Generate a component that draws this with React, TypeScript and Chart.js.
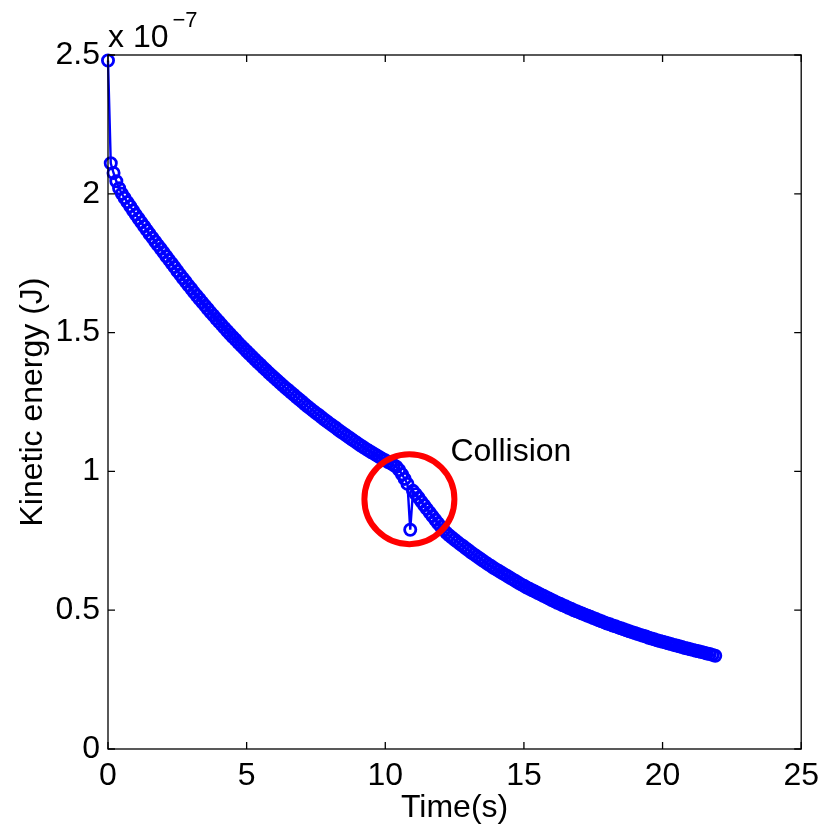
import React, { useEffect, useRef } from "react";
import { Chart, registerables } from "chart.js";

Chart.register(...registerables);

// Time (s), one sample every 0.1 s
const timeS = [
  0, 0.1, 0.2, 0.3, 0.4, 0.5, 0.6, 0.7, 0.8, 0.9,
  1.0, 1.1, 1.2, 1.3, 1.4, 1.5, 1.6, 1.7, 1.8, 1.9,
  2.0, 2.1, 2.2, 2.3, 2.4, 2.5, 2.6, 2.7, 2.8, 2.9,
  3.0, 3.1, 3.2, 3.3, 3.4, 3.5, 3.6, 3.7, 3.8, 3.9,
  4.0, 4.1, 4.2, 4.3, 4.4, 4.5, 4.6, 4.7, 4.8, 4.9,
  5.0, 5.1, 5.2, 5.3, 5.4, 5.5, 5.6, 5.7, 5.8, 5.9,
  6.0, 6.1, 6.2, 6.3, 6.4, 6.5, 6.6, 6.7, 6.8, 6.9,
  7.0, 7.1, 7.2, 7.3, 7.4, 7.5, 7.6, 7.7, 7.8, 7.9,
  8.0, 8.1, 8.2, 8.3, 8.4, 8.5, 8.6, 8.7, 8.8, 8.9,
  9.0, 9.1, 9.2, 9.3, 9.4, 9.5, 9.6, 9.7, 9.8, 9.9,
  10.0, 10.1, 10.2, 10.3, 10.4, 10.5, 10.6, 10.7, 10.8, 10.9,
  11.0, 11.1, 11.2, 11.3, 11.4, 11.5, 11.6, 11.7, 11.8, 11.9,
  12.0, 12.1, 12.2, 12.3, 12.4, 12.5, 12.6, 12.7, 12.8, 12.9,
  13.0, 13.1, 13.2, 13.3, 13.4, 13.5, 13.6, 13.7, 13.8, 13.9,
  14.0, 14.1, 14.2, 14.3, 14.4, 14.5, 14.6, 14.7, 14.8, 14.9,
  15.0, 15.1, 15.2, 15.3, 15.4, 15.5, 15.6, 15.7, 15.8, 15.9,
  16.0, 16.1, 16.2, 16.3, 16.4, 16.5, 16.6, 16.7, 16.8, 16.9,
  17.0, 17.1, 17.2, 17.3, 17.4, 17.5, 17.6, 17.7, 17.8, 17.9,
  18.0, 18.1, 18.2, 18.3, 18.4, 18.5, 18.6, 18.7, 18.8, 18.9,
  19.0, 19.1, 19.2, 19.3, 19.4, 19.5, 19.6, 19.7, 19.8, 19.9,
  20.0, 20.1, 20.2, 20.3, 20.4, 20.5, 20.6, 20.7, 20.8, 20.9,
  21.0, 21.1, 21.2, 21.3, 21.4, 21.5, 21.6, 21.7, 21.8, 21.9,
];

// Kinetic energy, in units of 1e-7 J
const kineticEnergyE7 = [
  2.48, 2.11, 2.075, 2.045, 2.02, 2.0, 1.985, 1.97, 1.955, 1.94,
  1.925, 1.911, 1.897, 1.883, 1.869, 1.855, 1.842, 1.828, 1.815, 1.802,
  1.789, 1.775, 1.762, 1.749, 1.736, 1.722, 1.709, 1.696, 1.683, 1.67,
  1.658, 1.645, 1.633, 1.621, 1.609, 1.597, 1.585, 1.573, 1.562, 1.55,
  1.539, 1.528, 1.517, 1.506, 1.495, 1.484, 1.474, 1.463, 1.453, 1.443,
  1.433, 1.423, 1.413, 1.403, 1.393, 1.384, 1.374, 1.365, 1.355, 1.346,
  1.337, 1.328, 1.319, 1.31, 1.301, 1.293, 1.284, 1.276, 1.267, 1.259,
  1.251, 1.242, 1.234, 1.226, 1.218, 1.21, 1.203, 1.195, 1.187, 1.18,
  1.172, 1.165, 1.158, 1.15, 1.143, 1.136, 1.129, 1.122, 1.115, 1.108,
  1.101, 1.094, 1.088, 1.081, 1.075, 1.069, 1.063, 1.057, 1.051, 1.045,
  1.04, 1.034, 1.029, 1.023, 1.017, 1.005, 0.99, 0.973, 0.955, 0.79,
  0.93, 0.918, 0.905, 0.891, 0.878, 0.865, 0.852, 0.839, 0.826, 0.813,
  0.801, 0.79, 0.779, 0.77, 0.762, 0.754, 0.746, 0.738, 0.731, 0.723,
  0.716, 0.708, 0.701, 0.694, 0.687, 0.68, 0.673, 0.666, 0.66, 0.653,
  0.647, 0.641, 0.635, 0.629, 0.623, 0.617, 0.611, 0.605, 0.599, 0.593,
  0.588, 0.582, 0.577, 0.572, 0.567, 0.562, 0.557, 0.552, 0.547, 0.542,
  0.537, 0.532, 0.527, 0.523, 0.518, 0.514, 0.509, 0.505, 0.5, 0.496,
  0.492, 0.488, 0.484, 0.48, 0.476, 0.472, 0.468, 0.464, 0.46, 0.456,
  0.452, 0.449, 0.445, 0.442, 0.438, 0.435, 0.431, 0.428, 0.424, 0.421,
  0.418, 0.414, 0.411, 0.408, 0.405, 0.401, 0.398, 0.395, 0.392, 0.389,
  0.386, 0.384, 0.381, 0.378, 0.375, 0.373, 0.37, 0.367, 0.364, 0.362,
  0.359, 0.357, 0.354, 0.352, 0.349, 0.347, 0.344, 0.342, 0.339, 0.336,
];

const xTickValues = [0, 5, 10, 15, 20, 25];
const yTickValues = [0, 0.5, 1, 1.5, 2, 2.5];
const xTitle = "Time(s)";
const yTitle = "Kinetic energy (J)";
const exponentBase = "x 10";
const exponentPower = "\u22127";

// annotation (data coordinates)
const collisionLabel = "Collision";
const collisionCircleCenter = { t: 10.87, e: 0.9 };
const collisionLabelPos = { t: 12.35, e: 1.07 };

const FONT = "'Liberation Sans', Arial, Helvetica, sans-serif";

export default function App() {
  const canvasRef = useRef<HTMLCanvasElement | null>(null);

  useEffect(() => {
    const canvas = canvasRef.current;
    if (!canvas) return;

    const framePlugin = {
      id: "matlabFrame",
      afterDatasetsDraw(chart: any) {
        const { ctx, scales } = chart;
        const xs = scales.x;
        const ys = scales.y;
        const cx = xs.getPixelForValue(collisionCircleCenter.t);
        const cy = ys.getPixelForValue(collisionCircleCenter.e);
        ctx.save();
        ctx.beginPath();
        ctx.strokeStyle = "#ff0000";
        ctx.lineWidth = 6;
        ctx.arc(cx, cy, 45, 0, Math.PI * 2);
        ctx.stroke();
        ctx.fillStyle = "#000";
        ctx.font = `32px ${FONT}`;
        ctx.textAlign = "left";
        ctx.textBaseline = "middle";
        ctx.fillText(
          collisionLabel,
          xs.getPixelForValue(collisionLabelPos.t),
          ys.getPixelForValue(collisionLabelPos.e)
        );
        ctx.restore();
      },
      afterDraw(chart: any) {
        const { ctx, chartArea, scales } = chart;
        const { left, right, top, bottom } = chartArea;
        ctx.save();
        ctx.strokeStyle = "#000";
        ctx.lineWidth = 1.3;
        ctx.strokeRect(left, top, right - left, bottom - top);
        const tl = 7;
        ctx.beginPath();
        xTickValues.forEach((v) => {
          const px = scales.x.getPixelForValue(v);
          ctx.moveTo(px, bottom);
          ctx.lineTo(px, bottom - tl);
          ctx.moveTo(px, top);
          ctx.lineTo(px, top + tl);
        });
        yTickValues.forEach((v) => {
          const py = scales.y.getPixelForValue(v);
          ctx.moveTo(left, py);
          ctx.lineTo(left + tl, py);
          ctx.moveTo(right, py);
          ctx.lineTo(right - tl, py);
        });
        ctx.stroke();
        ctx.fillStyle = "#000";
        ctx.textAlign = "left";
        ctx.textBaseline = "alphabetic";
        ctx.font = `32px ${FONT}`;
        ctx.fillText(exponentBase, left, top - 8);
        const w = ctx.measureText(exponentBase).width;
        ctx.font = `22px ${FONT}`;
        ctx.fillText(exponentPower, left + w + 4, top - 28);
        ctx.restore();
      },
    };

    const chart = new Chart(canvas, {
      type: "line",
      data: {
        datasets: [
          {
            data: timeS.map((t, i) => ({ x: t, y: kineticEnergyE7[i] })),
            borderColor: "#0000ff",
            borderWidth: 2.4,
            pointRadius: 5.6,
            pointBorderWidth: 2.8,
            pointBorderColor: "#0000ff",
            pointBackgroundColor: "rgba(0,0,0,0)",
            pointStyle: "circle",
            fill: false,
            tension: 0,
            clip: false as any,
          },
        ],
      },
      options: {
        responsive: false,
        devicePixelRatio: 1,
        animation: false,
        events: [],
        layout: { padding: { top: 55, right: 25, left: 0, bottom: 0 } },
        plugins: {
          legend: { display: false },
          tooltip: { enabled: false },
        },
        scales: {
          x: {
            type: "linear",
            min: 0,
            max: 25,
            afterBuildTicks: (s: any) => {
              s.ticks = xTickValues.map((v) => ({ value: v }));
            },
            afterFit: (s: any) => {
              s.height = 83;
            },
            ticks: {
              color: "#000",
              font: { family: FONT, size: 32 },
              padding: 8,
              maxRotation: 0,
              autoSkip: false,
              callback: (v: any) => String(v),
            },
            grid: { display: false, drawTicks: false },
            border: { display: false },
            title: {
              display: true,
              text: xTitle,
              color: "#000",
              font: { family: FONT, size: 32 },
              padding: { top: 0, bottom: 5 },
            },
          },
          y: {
            type: "linear",
            min: 0,
            max: 2.5,
            afterBuildTicks: (s: any) => {
              s.ticks = yTickValues.map((v) => ({ value: v }));
            },
            afterFit: (s: any) => {
              s.width = 108;
            },
            ticks: {
              color: "#000",
              font: { family: FONT, size: 32 },
              padding: 8,
              autoSkip: false,
              callback: (v: any) => String(v),
            },
            grid: { display: false, drawTicks: false },
            border: { display: false },
            title: {
              display: true,
              text: yTitle,
              color: "#000",
              font: { family: FONT, size: 32 },
              padding: { top: 14, bottom: 0 },
            },
          },
        },
      },
      plugins: [framePlugin],
    });

    return () => chart.destroy();
  }, []);

  return (
    <div style={{ position: "absolute", left: 0, top: 0, width: 827, height: 832, background: "#fff" }}>
      <canvas ref={canvasRef} width={827} height={832} style={{ display: "block" }} />
    </div>
  );
}
